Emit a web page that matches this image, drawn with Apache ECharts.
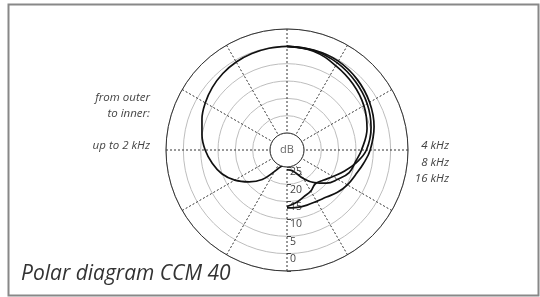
<!DOCTYPE html>
<html><head><meta charset="utf-8">
<script src="https://cdn.jsdelivr.net/npm/echarts@6/dist/echarts.min.js"></script>
<style>html,body{margin:0;padding:0;background:#fff}#c{width:540px;height:297px}</style>
</head><body><div id="c"></div>
<script>
// Left half: angle measured counter-clockwise from front (0 = front, 180 = rear)
const leftAngles = [0,10,20,30,40,50,60,70,80,90,100,110,120,130,140,150,160,170];
const leftDb = [0,-0.1,-0.3,-0.6,-1.1,-1.8,-2.7,-3.8,-5.0,-6.3,-8.0,-9.9,-12.5,-15.6,-18.8,-22.8,-24.8,-25.4];
// Right half: angle measured clockwise from front
const rightAngles = [0,15,30,45,60,75,90,100,110,120,130,140,150,160,170,180];
const db4k  = [0,-0.05,-0.3,-1.2,-2.4,-3.9,-5.9,-7.5,-8.9,-9.8,-10.9,-12.2,-12.8,-13.0,-13.1,-13.2];
const db8k  = [0,-0.2,-0.9,-2.0,-3.2,-4.8,-7.0,-9.5,-12.2,-14.6,-16.3,-17.2,-16.2,-15.6,-14.5,-13.6];
const db16k = [0,-0.4,-1.8,-3.0,-4.3,-6.0,-8.4,-9.9,-10.8,-13.0,-15.0,-17.6,-20.4,-23.0,-24.0,-24.2];
const radiusTicks = [-25,-20,-15,-10,-5,0];
const leftLabels = ['from outer','to inner:','up to 2 kHz'];
const rightLabels = ['4 kHz','8 kHz','16 kHz'];
const titleText = 'Polar diagram CCM 40';

const chart = echarts.init(document.getElementById('c'));
const leftData = leftAngles.map((a,i)=>[leftDb[i], 180 - a]);
const mkRight = arr => rightAngles.map((a,i)=>[arr[i], 180 + a]);
const lineStyle = {color:'#111', width:1.7};
const FONT = '"Open Sans", "DejaVu Sans", sans-serif';
function ser(data){return {type:'line',coordinateSystem:'polar',data:data,symbol:'none',smooth:0.4,lineStyle:lineStyle,clip:false,z:5};}
const txt = (t,x,y,align,size,color)=>({type:'text',x:x,y:y,style:{text:t,fontSize:size,fill:color,fontStyle:'italic',fontFamily:FONT,textAlign:align,textVerticalAlign:'middle'}});
chart.setOption({
  animation:false,
  polar:{center:[287,150], radius:[17,121]},
  angleAxis:{type:'value',min:0,max:360,interval:30,startAngle:270,clockwise:true,
    axisLine:{show:true,lineStyle:{color:'#333',width:1}},
    axisTick:{show:false}, axisLabel:{show:false},
    splitLine:{show:true,lineStyle:{color:'#333',width:1,type:[2,2]}}},
  radiusAxis:{type:'value',min:-25,max:5,interval:5,
    axisLine:{show:false},
    axisTick:{show:true,length:4,lineStyle:{color:'#444',width:1}},
    axisLabel:{show:true,fontSize:10.5,color:'#444',fontFamily:FONT,margin:3,verticalAlign:'top',
      formatter:v=> radiusTicks.indexOf(v)>=0 ? String(Math.abs(v)) : ''},
    splitLine:{show:true,lineStyle:{color:'#bdbdbd',width:1}}},
  series:[ser(leftData), ser(mkRight(db4k)), ser(mkRight(db8k)), ser(mkRight(db16k))],
  graphic:[
    {type:'rect',shape:{x:8.5,y:4.5,width:530,height:291},style:{fill:null,stroke:'#888',lineWidth:2},silent:true},
    {type:'text',x:287,y:150,style:{text:'dB',fontSize:11,fill:'#666',fontFamily:FONT,textAlign:'center',textVerticalAlign:'middle'}},
    txt(leftLabels[0],150,98,'right',11.5,'#444'),
    txt(leftLabels[1],150,114,'right',11.5,'#444'),
    txt(leftLabels[2],150,146,'right',11.5,'#444'),
    txt(rightLabels[0],449,146,'right',11.5,'#444'),
    txt(rightLabels[1],449,163,'right',11.5,'#444'),
    txt(rightLabels[2],449,179,'right',11.5,'#444'),
    txt(titleText,21,274,'left',21,'#333')
  ]
});
</script></body></html>
